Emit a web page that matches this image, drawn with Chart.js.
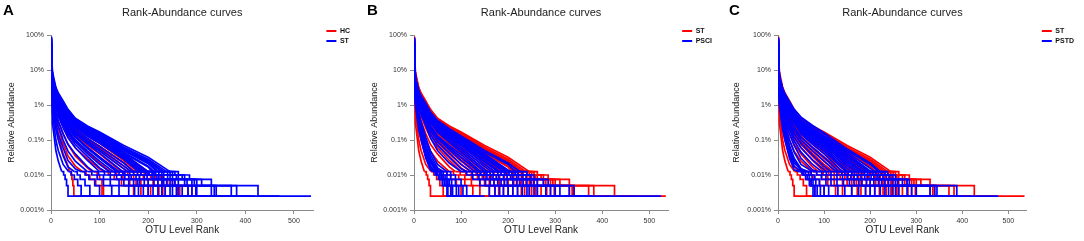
<!DOCTYPE html>
<html><head><meta charset="utf-8">
<script src="https://cdn.jsdelivr.net/npm/chart.js@4.4.0/dist/chart.umd.min.js"></script>
<style>
html,body{margin:0;padding:0;background:#fff;width:1084px;height:241px;overflow:hidden}
canvas{position:absolute;top:0}
.tag{position:absolute;top:2px;font:bold 15px "Liberation Sans",Arial,sans-serif;color:#000;line-height:15px}
</style></head><body>
<canvas id="cA" width="360" height="241" style="left:0px"></canvas>
<canvas id="cB" width="362" height="241" style="left:360px"></canvas>
<canvas id="cC" width="362" height="241" style="left:722px"></canvas>
<div class="tag" style="left:3px">A</div>
<div class="tag" style="left:367px">B</div>
<div class="tag" style="left:729px">C</div>
<script>
// ---- data ----
const TITLE = 'Rank-Abundance curves';
const X_LABEL = 'OTU Level Rank';
const Y_LABEL = 'Relative Abundance';
const X_TICKS = [0, 100, 200, 300, 400, 500];
const Y_TICKS = [0.001, 0.01, 0.1, 1, 10, 100];
const Y_TICK_LABELS = ['0.001%', '0.01%', '0.1%', '1%', '10%', '100%'];
// ranks at which the upper (continuous) part of each curve is read; values are relative abundance in %
const RANKS = [1, 3, 10, 15, 25, 35, 50, 75, 100, 150, 200, 250];
// read-count levels of the stepped tail (5,4,3,2,1,1 reads), in %
const TAIL_LEVELS = [0.0125, 0.01, 0.0075, 0.005, 0.0025, 0.0025];

const ST_HEAD = [
  [30, 9, 3.2, 2.2, 1.3, 0.75, 0.42, 0.25, 0.17, 0.07, 0.032],
  [18, 7, 3.0, 2.05, 1.2, 0.7, 0.40, 0.24, 0.16, 0.062, 0.028],
  [45, 6, 2.6, 1.8, 1.1, 0.65, 0.38, 0.225, 0.15, 0.058, 0.026],
  [12, 6.5, 2.8, 1.9, 1.15, 0.64, 0.36, 0.215, 0.14, 0.055, 0.024],
  [22, 7.5, 2.5, 1.7, 1.0, 0.58, 0.34, 0.2, 0.13, 0.05, 0.022],
  [60, 3.5, 1.6, 1.2, 0.8, 0.52, 0.33, 0.2, 0.13, 0.05, 0.021],
  [15, 6, 2.4, 1.6, 0.9, 0.53, 0.31, 0.18, 0.12, 0.045, 0.018],
  [35, 5.5, 2.1, 1.45, 0.85, 0.5, 0.30, 0.17, 0.11, 0.042, 0.017],
  [10, 5, 2.9, 2.0, 1.1, 0.55, 0.29, 0.15, 0.09, 0.04],
  [25, 6.5, 2.0, 1.38, 0.8, 0.47, 0.28, 0.16, 0.10, 0.038],
  [40, 4.5, 1.9, 1.32, 0.78, 0.46, 0.27, 0.15, 0.095, 0.035],
  [8, 5, 2.0, 1.33, 0.75, 0.43, 0.25, 0.14, 0.09, 0.032],
  [20, 6, 1.8, 1.22, 0.7, 0.41, 0.24, 0.135, 0.085, 0.03],
  [90, 3, 1.5, 1.05, 0.65, 0.39, 0.23, 0.128, 0.08, 0.028],
  [28, 5, 1.7, 1.12, 0.6, 0.35, 0.2, 0.11, 0.065, 0.022],
  [14, 4.5, 1.6, 1.05, 0.55, 0.31, 0.18, 0.095, 0.055, 0.018],
  [50, 4, 1.4, 0.93, 0.5, 0.28, 0.16, 0.085, 0.048, 0.015],
  [9, 4.2, 1.5, 0.97, 0.5, 0.27, 0.15, 0.078, 0.042],
  [33, 4.5, 2.0, 1.2, 0.55, 0.27, 0.13, 0.062, 0.033],
  [16, 3.8, 1.3, 0.83, 0.42, 0.22, 0.12, 0.058, 0.03],
  [70, 3, 1.0, 0.65, 0.35, 0.19, 0.1, 0.049, 0.025],
  [12, 3.2, 1.1, 0.68, 0.32, 0.17, 0.09, 0.041, 0.02],
  [24, 2.8, 0.9, 0.56, 0.28, 0.145, 0.075, 0.034, 0.016],
  [40, 2.5, 0.8, 0.48, 0.22, 0.115, 0.06, 0.026],
  [35, 2.2, 0.6, 0.35, 0.15, 0.075, 0.04, 0.017],
  [55, 2, 0.45, 0.25, 0.1, 0.048, 0.025],
  [30, 1.5, 0.3, 0.15, 0.06, 0.026, 0.015],
  [65, 1.0, 0.2, 0.1, 0.035, 0.017],
  [80, 0.6, 0.1, 0.05, 0.02],
  [85, 0.3, 0.05, 0.025]
];
const ST_TAIL = [
  [245, 262, 285, 330, 426, 535],
  [238, 255, 275, 310, 382, 470],
  [232, 250, 270, 300, 371, 420],
  [228, 245, 262, 295, 340, 410],
  [222, 240, 258, 290, 336, 380],
  [218, 232, 250, 280, 330, 372],
  [212, 228, 245, 275, 300, 360],
  [208, 222, 240, 262, 298, 340],
  [200, 215, 232, 255, 290, 335],
  [198, 212, 228, 250, 282, 320],
  [192, 208, 222, 245, 270, 310],
  [188, 202, 218, 238, 262, 300],
  [185, 198, 212, 232, 258, 300],
  [180, 195, 208, 228, 250, 290],
  [170, 185, 198, 220, 245, 280],
  [165, 178, 192, 212, 235, 275],
  [158, 170, 182, 200, 228, 260],
  [148, 162, 175, 192, 220, 250],
  [140, 152, 165, 182, 210, 240],
  [135, 148, 160, 178, 200, 235],
  [128, 140, 152, 170, 190, 225],
  [120, 132, 145, 160, 180, 210],
  [112, 122, 135, 150, 172, 200],
  [100, 110, 122, 140, 160, 190],
  [88, 98, 108, 122, 140, 175],
  [75, 84, 95, 108, 125, 160],
  [62, 70, 78, 90, 100, 140],
  [48, 54, 60, 70, 80, 120],
  [36, 42, 48, 55, 62, 100],
  [22, 26, 29, 32, 35, 80]
];

const HC_HEAD = [
  [20, 6, 2.2, 1.5, 0.85, 0.5, 0.3, 0.17, 0.11, 0.04],
  [40, 5, 2.0, 1.38, 0.8, 0.47, 0.28, 0.16, 0.1, 0.035],
  [15, 5.5, 1.9, 1.3, 0.75, 0.44, 0.26, 0.145, 0.09, 0.03],
  [60, 4, 1.7, 1.17, 0.7, 0.41, 0.24, 0.132, 0.08, 0.026],
  [25, 6, 2.6, 1.6, 0.8, 0.42, 0.21, 0.11, 0.066, 0.022],
  [30, 4, 1.5, 1.0, 0.55, 0.32, 0.19, 0.1, 0.06, 0.018],
  [12, 4.2, 1.45, 0.96, 0.5, 0.29, 0.17, 0.088, 0.05, 0.015],
  [45, 3.5, 1.3, 0.86, 0.45, 0.25, 0.14, 0.072, 0.04],
  [22, 3.2, 1.2, 0.78, 0.4, 0.22, 0.12, 0.06, 0.032],
  [35, 3, 1.0, 0.64, 0.33, 0.17, 0.09, 0.044, 0.022],
  [50, 2.5, 0.8, 0.5, 0.25, 0.125, 0.06, 0.029, 0.015],
  [70, 2.0, 0.55, 0.33, 0.15, 0.075, 0.035, 0.016],
  [55, 1.5, 0.4, 0.22, 0.08, 0.035, 0.018],
  [80, 1.0, 0.25, 0.13, 0.04, 0.018]
];
const HC_TAIL = [
  [200, 215, 230, 255, 290, 355],
  [195, 210, 225, 250, 282, 330],
  [185, 200, 215, 240, 265, 300],
  [178, 192, 205, 230, 260, 290],
  [172, 185, 198, 220, 235, 285],
  [165, 178, 190, 210, 230, 270],
  [158, 170, 182, 200, 222, 262],
  [145, 158, 170, 185, 205, 230],
  [135, 148, 160, 175, 200, 220],
  [122, 135, 148, 162, 185, 210],
  [108, 118, 130, 145, 170, 200],
  [85, 95, 100, 105, 108, 160],
  [65, 72, 80, 92, 105, 140],
  [38, 41, 43, 45, 47, 90]
];

const PSCI_HEAD = [
  [20, 6, 2.6, 1.8, 1.1, 0.63, 0.36, 0.21, 0.13, 0.05, 0.022],
  [35, 6, 2.5, 1.7, 1.0, 0.58, 0.33, 0.19, 0.12, 0.045, 0.02],
  [15, 5.5, 2.4, 1.63, 0.95, 0.54, 0.3, 0.175, 0.11, 0.04],
  [50, 5, 2.3, 1.56, 0.9, 0.5, 0.28, 0.16, 0.1, 0.036],
  [25, 5.5, 2.2, 1.5, 0.85, 0.48, 0.27, 0.155, 0.095, 0.032],
  [12, 5, 2.1, 1.42, 0.8, 0.45, 0.25, 0.145, 0.088, 0.03],
  [30, 4.5, 2.0, 1.35, 0.75, 0.42, 0.24, 0.135, 0.08, 0.026],
  [40, 4.8, 1.9, 1.28, 0.72, 0.4, 0.22, 0.125, 0.075, 0.024],
  [18, 4.2, 1.8, 1.22, 0.68, 0.38, 0.21, 0.118, 0.07, 0.02],
  [28, 4.4, 1.7, 1.14, 0.62, 0.34, 0.19, 0.105, 0.06, 0.017],
  [60, 4, 1.6, 1.07, 0.58, 0.32, 0.17, 0.092, 0.052],
  [22, 5, 2.4, 1.5, 0.75, 0.38, 0.17, 0.085, 0.045],
  [45, 3.5, 1.4, 0.93, 0.5, 0.26, 0.13, 0.069, 0.038],
  [16, 3.6, 1.3, 0.86, 0.45, 0.235, 0.12, 0.061, 0.032],
  [35, 3.2, 1.2, 0.8, 0.42, 0.215, 0.11, 0.053, 0.026],
  [25, 3.0, 1.1, 0.72, 0.38, 0.185, 0.09, 0.042, 0.02],
  [55, 2.6, 0.95, 0.62, 0.3, 0.145, 0.07, 0.032, 0.015],
  [30, 2.4, 0.85, 0.54, 0.26, 0.115, 0.05, 0.022],
  [65, 2.2, 0.6, 0.34, 0.12, 0.048, 0.02],
  [45, 2.0, 0.5, 0.28, 0.09, 0.038, 0.016],
  [70, 1.8, 0.45, 0.25, 0.07, 0.03, 0.014],
  [50, 1.6, 0.4, 0.21, 0.06, 0.025],
  [75, 1.5, 0.35, 0.18, 0.05, 0.022],
  [60, 1.3, 0.3, 0.16, 0.04, 0.018],
  [80, 1.2, 0.25, 0.13, 0.035, 0.016],
  [85, 1.0, 0.2, 0.1, 0.03, 0.014]
];
const PSCI_TAIL = [
  [225, 240, 255, 285, 340, 525],
  [215, 230, 248, 275, 330, 380],
  [205, 220, 238, 262, 310, 375],
  [200, 215, 230, 255, 300, 345],
  [195, 208, 222, 248, 290, 335],
  [190, 202, 218, 240, 280, 320],
  [182, 196, 210, 232, 262, 300],
  [178, 192, 205, 225, 255, 290],
  [172, 185, 198, 218, 245, 280],
  [165, 178, 190, 210, 240, 270],
  [155, 168, 180, 198, 230, 260],
  [150, 162, 175, 192, 220, 250],
  [142, 155, 168, 185, 210, 240],
  [138, 150, 162, 178, 200, 235],
  [130, 142, 155, 170, 190, 225],
  [122, 135, 148, 162, 182, 215],
  [112, 124, 138, 152, 172, 200],
  [100, 112, 125, 140, 160, 190],
  [70, 78, 88, 100, 112, 150],
  [62, 70, 78, 88, 104, 140],
  [55, 62, 70, 80, 95, 130],
  [50, 58, 66, 75, 90, 120],
  [48, 55, 62, 72, 82, 115],
  [44, 50, 58, 68, 78, 110],
  [42, 48, 55, 64, 72, 100],
  [40, 45, 52, 60, 70, 95]
];

const PSTD_HEAD = [
  [25, 7, 3.0, 2.1, 1.25, 0.75, 0.45, 0.26, 0.16, 0.055, 0.022],
  [15, 6.5, 2.8, 1.95, 1.15, 0.7, 0.42, 0.24, 0.15, 0.05, 0.02],
  [40, 6, 2.7, 1.83, 1.05, 0.61, 0.36, 0.21, 0.13, 0.045],
  [20, 6, 2.5, 1.72, 1.0, 0.58, 0.34, 0.195, 0.12, 0.04],
  [55, 5.5, 2.4, 1.64, 0.95, 0.55, 0.32, 0.18, 0.11, 0.036],
  [30, 5.5, 2.3, 1.56, 0.9, 0.52, 0.3, 0.168, 0.1, 0.032],
  [12, 5, 2.2, 1.5, 0.85, 0.49, 0.28, 0.157, 0.092, 0.028],
  [45, 4.8, 2.1, 1.43, 0.8, 0.46, 0.26, 0.145, 0.085, 0.025],
  [22, 4.5, 2.0, 1.36, 0.75, 0.42, 0.24, 0.133, 0.078, 0.022],
  [35, 4.2, 1.9, 1.28, 0.7, 0.39, 0.22, 0.12, 0.07, 0.019],
  [18, 4, 1.8, 1.2, 0.65, 0.36, 0.2, 0.108, 0.062, 0.016],
  [65, 3.8, 1.7, 1.13, 0.6, 0.33, 0.18, 0.097, 0.055],
  [28, 3.6, 1.6, 1.06, 0.55, 0.3, 0.16, 0.086, 0.048],
  [40, 5, 2.5, 1.5, 0.7, 0.33, 0.15, 0.075, 0.04],
  [16, 3.2, 1.4, 0.91, 0.45, 0.235, 0.12, 0.061, 0.032],
  [50, 3.0, 1.2, 0.79, 0.4, 0.2, 0.1, 0.049, 0.025],
  [30, 2.8, 1.0, 0.65, 0.32, 0.16, 0.08, 0.037, 0.018],
  [70, 2.6, 0.9, 0.57, 0.26, 0.125, 0.06, 0.027],
  [45, 2.4, 0.75, 0.46, 0.2, 0.095, 0.045, 0.02],
  [60, 2.2, 0.6, 0.36, 0.15, 0.07, 0.03, 0.014],
  [35, 2.0, 0.5, 0.28, 0.1, 0.045, 0.02],
  [75, 1.8, 0.4, 0.22, 0.07, 0.03, 0.015],
  [55, 1.6, 0.35, 0.19, 0.06, 0.026, 0.013],
  [80, 1.4, 0.3, 0.16, 0.05, 0.022],
  [65, 1.2, 0.25, 0.13, 0.04, 0.018],
  [85, 1.0, 0.2, 0.1, 0.03, 0.014]
];
const PSTD_TAIL = [
  [222, 238, 255, 285, 340, 478],
  [218, 232, 248, 280, 388, 400],
  [210, 225, 242, 270, 345, 385],
  [202, 218, 235, 260, 330, 360],
  [198, 212, 228, 255, 300, 345],
  [192, 206, 220, 248, 290, 330],
  [185, 200, 215, 240, 280, 315],
  [180, 194, 208, 232, 262, 300],
  [175, 188, 202, 225, 255, 290],
  [168, 182, 195, 218, 248, 280],
  [160, 174, 188, 208, 240, 270],
  [152, 166, 180, 200, 232, 262],
  [148, 160, 172, 192, 222, 250],
  [140, 152, 165, 182, 210, 240],
  [132, 145, 158, 175, 200, 235],
  [125, 138, 150, 165, 190, 220],
  [115, 128, 140, 155, 175, 210],
  [105, 115, 128, 142, 160, 195],
  [95, 105, 115, 128, 145, 180],
  [85, 95, 104, 115, 130, 165],
  [75, 84, 94, 104, 110, 150],
  [65, 72, 80, 90, 100, 140],
  [60, 66, 74, 82, 92, 130],
  [55, 60, 68, 76, 85, 120],
  [50, 56, 64, 72, 80, 110],
  [46, 52, 60, 68, 76, 100]
];

// ---- styling / rendering ----
const FONT = '"Liberation Sans", Arial, Helvetica, sans-serif';
const RED = '#ff0000', BLUE = '#0000ff';
const AXIS = '#8a8a8a', TICK = '#333333';

function curveSets(heads, tails, color) {
  const out = [];
  heads.forEach((h, i) => {
    const t = tails[i];
    const head = h.map((v, j) => ({x: RANKS[j], y: v}));
    head.push({x: t[0], y: TAIL_LEVELS[0]});
    out.push({data: head, borderColor: color, stepped: false});
    out.push({data: t.map((r, j) => ({x: r, y: TAIL_LEVELS[j]})), borderColor: color, stepped: 'before'});
  });
  return out;
}

function makePanel(id, p) {
  new Chart(document.getElementById(id), {
    type: 'line',
    data: {datasets: p.sets},
    options: {
      responsive: false, animation: false, devicePixelRatio: 1,
      layout: {padding: {left: 0, right: 0, top: 0, bottom: 0}},
      elements: {point: {radius: 0}, line: {borderWidth: 1.7, tension: 0, fill: false}},
      plugins: {
        tooltip: {enabled: false},
        title: {display: true, text: TITLE, fullSize: false, color: '#222',
          font: {family: FONT, size: 11, weight: 'normal'}, padding: {top: 6, bottom: 15.8}},
        legend: {display: true, position: 'right', align: 'start', fullSize: true, maxWidth: 90,
          title: {display: true, text: '', padding: {top: 23.5, bottom: 0}, font: {size: 1, lineHeight: 1}},
          labels: {boxWidth: 10, boxHeight: 2, padding: 3, color: '#111',
            font: {family: FONT, size: 7, weight: 'bold'},
            generateLabels: () => p.groups.map((g, i) => ({text: g, fillStyle: p.colors[i], strokeStyle: p.colors[i],
              lineWidth: 0, hidden: false, fontColor: '#111'}))}}
      },
      scales: {
        x: {type: 'linear', position: 'bottom', min: 0, max: 540,
          afterBuildTicks: s => { s.ticks = X_TICKS.map(v => ({value: v})); },
          afterFit: s => { s.height = 31; },
          grid: {display: true, drawOnChartArea: false, drawTicks: true, tickLength: 4, color: AXIS},
          border: {display: true, color: AXIS, width: 1},
          ticks: {color: TICK, font: {family: FONT, size: 7}, padding: 3, maxRotation: 0, autoSkip: false},
          title: {display: true, text: X_LABEL, color: '#222', font: {family: FONT, size: 10}, padding: {top: 0, bottom: 5}}},
        y: {type: 'logarithmic', position: 'left', min: 0.001, max: 100,
          afterBuildTicks: s => { s.ticks = Y_TICKS.map(v => ({value: v})); },
          afterFit: s => { s.width = p.axisW; },
          grid: {display: true, drawOnChartArea: false, drawTicks: true, tickLength: 4, color: AXIS},
          border: {display: true, color: AXIS, width: 1},
          ticks: {color: TICK, font: {family: FONT, size: 7}, padding: 3, autoSkip: false,
            callback: (v, i) => Y_TICK_LABELS[i]},
          title: {display: true, text: Y_LABEL, color: '#222', font: {family: FONT, size: 9}, padding: {top: p.yTitlePad, bottom: 0}}},
        sp: {type: 'linear', axis: 'y', position: 'right', weight: 0, display: true,
          grid: {display: false}, border: {display: false}, ticks: {display: false},
          afterFit: s => { s.width = p.legendX - 3 - p.right; }},
        sp2: {type: 'linear', axis: 'y', position: 'right', weight: 2000, display: true,
          grid: {display: false}, border: {display: false}, ticks: {display: false},
          afterFit: s => {
            const lg = s.chart.legend;
            s.width = Math.max(0, p.W - (p.legendX - 3) - (lg ? lg.width : 0));
          }}
      }
    }
  });
}

makePanel('cA', {groups: ['HC', 'ST'], colors: [RED, BLUE], W: 360, axisW: 51, right: 314, legendX: 327, yTitlePad: 6.6,
  sets: curveSets(ST_HEAD, ST_TAIL, BLUE).concat(curveSets(HC_HEAD, HC_TAIL, RED))});
makePanel('cB', {groups: ['ST', 'PSCI'], colors: [RED, BLUE], W: 362, axisW: 54, right: 311, legendX: 325, yTitlePad: 9,
  sets: curveSets(PSCI_HEAD, PSCI_TAIL, BLUE).concat(curveSets(ST_HEAD, ST_TAIL, RED))});
makePanel('cC', {groups: ['ST', 'PSTD'], colors: [RED, BLUE], W: 362, axisW: 56, right: 308, legendX: 323, yTitlePad: 9.6,
  sets: curveSets(PSTD_HEAD, PSTD_TAIL, BLUE).concat(curveSets(ST_HEAD, ST_TAIL, RED))});
</script>
</body></html>
